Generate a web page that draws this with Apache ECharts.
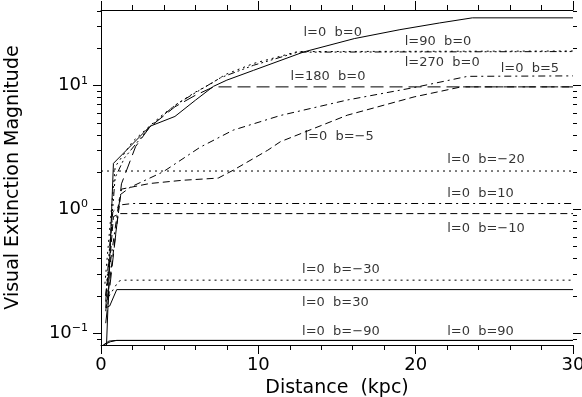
<!DOCTYPE html>
<html>
<head>
<meta charset="utf-8">
<script src="https://cdn.jsdelivr.net/npm/echarts@6/dist/echarts.min.js"></script>
<style>
  html, body { margin: 0; padding: 0; background: #fff; }
  #chart { width: 582px; height: 397px; }
</style>
</head>
<body>
<div id="chart"></div>
<script>
// curves: [distance (kpc), visual extinction (mag)]
const l0b0 = [[0.35, 0.08], [0.79, 2.34], [3.12, 4.67], [4.7, 5.6], [6.0, 7.57], [7.15, 9.8], [8.0, 11.0], [9.7, 13.2], [12.9, 18.6], [16.1, 23.8], [19.0, 28.1], [21.5, 31.8], [23.6, 35.0], [30, 35.0]];
const l90b0 = [[0.25, 0.25], [0.9, 2.2], [2.0, 3.5], [3.1, 4.7], [4.0, 5.9], [5.0, 7.3], [6.0, 8.8], [7.0, 10.3], [7.9, 12.2], [9.7, 15.0], [12.5, 18.7], [30, 18.9]];
const l270b0 = [[0.3, 0.2], [0.9, 1.8], [1.5, 2.6], [3.1, 4.6], [4.7, 6.9], [6.0, 8.7], [7.6, 11.5], [9.7, 14.5], [12.5, 18.5], [30, 18.7]];
const l180b0 = [[0.3, 0.12], [1.3, 1.6], [2.2, 3.2], [3.1, 4.6], [4.7, 6.7], [6.0, 8.3], [7.15, 9.7], [30, 9.7]];
const l0b5 = [[0.3, 0.2], [1.2, 1.3], [1.85, 1.5], [3.95, 2.0], [6.3, 3.16], [8.4, 4.34], [11.4, 5.7], [15.65, 7.6], [19.9, 9.58], [23.3, 11.8], [30, 11.9]];
const l0bm5 = [[0.3, 0.15], [1.3, 1.45], [3.1, 1.61], [5.2, 1.71], [7.45, 1.78], [8.4, 2.06], [10.6, 2.99], [11.4, 3.5], [15.65, 5.73], [19.9, 8.05], [22.9, 9.7], [30, 9.7]];
const l0bm20 = [[0, 2.03], [30, 2.03]];
const l0b10 = [[0.3, 0.18], [0.75, 0.95], [1.2, 1.08], [2.0, 1.11], [30, 1.11]];
const l0bm10 = [[0.3, 0.16], [0.57, 0.39], [0.79, 0.87], [1.2, 0.92], [30, 0.92]];
const l0bm30 = [[0.3, 0.18], [1.1, 0.26], [1.3, 0.267], [30, 0.267]];
const l0b30 = [[0.3, 0.16], [0.55, 0.165], [1.0, 0.224], [30, 0.224]];
const l0bm90 = [[0.15, 0.08], [0.5, 0.086], [0.9, 0.087], [30, 0.087]];
const l0b90 = [[0.15, 0.08], [0.6, 0.085], [1.0, 0.0872], [30, 0.0872]];

// curve annotations: [distance, extinction, text]
const curveLabels = [
  [12.87, 26.8, 'l=0  b=0'],
  [19.3, 22.4, 'l=90  b=0'],
  [19.3, 15.2, 'l=270  b=0'],
  [12.04, 11.7, 'l=180  b=0'],
  [25.4, 13.6, 'l=0  b=5'],
  [12.93, 3.88, 'l=0  b=\u22125'],
  [22.0, 2.53, 'l=0  b=\u221220'],
  [22.0, 1.339, 'l=0  b=10'],
  [22.0, 0.69, 'l=0  b=\u221210'],
  [12.78, 0.3265, 'l=0  b=\u221230'],
  [12.78, 0.1755, 'l=0  b=30'],
  [12.78, 0.1024, 'l=0  b=\u221290'],
  [22.0, 0.1024, 'l=0  b=90']
];

// y axis ticks (log axis)
const yMajorTicks = [0.1, 1, 10];
const yMinorTicks = [0.09, 0.2, 0.3, 0.4, 0.5, 0.6, 0.7, 0.8, 0.9, 2, 3, 4, 5, 6, 7, 8, 9, 20, 30, 40];

const dotted = [2, 4];
const dashed = [7, 4];
const longDash = [13, 6];
const dashDot = [7, 4, 2, 4];
const dashDot3 = [7, 3, 2, 3, 2, 3, 2, 3];

function curve(data, type) {
  return {
    type: 'line',
    data: data,
    symbol: 'none',
    silent: true,
    lineStyle: { color: '#000', width: 1, type: type, cap: 'butt' }
  };
}

function logLabel(v) {
  const lg = Math.log10(v);
  const e = Math.round(lg);
  if (Math.abs(lg - e) > 1e-6) return '';
  return '{b|10}{s|' + (e < 0 ? '\u2212' + (-e) : e) + '}';
}

var myChart = echarts.init(document.getElementById('chart'));

const font = 'DejaVu Sans';
const tickData = yMajorTicks.map(v => [0, v, 1]).concat(yMinorTicks.map(v => [0, v, 0]));

var option = {
  animation: false,
  grid: { left: 101, right: 9, top: 10, bottom: 52, outerBoundsMode: 'none', containLabel: false },
  xAxis: [
    {
      type: 'value', min: 0, max: 30, interval: 10, position: 'bottom',
      name: 'Distance  (kpc)', nameLocation: 'middle', nameGap: 30,
      nameTextStyle: { fontFamily: font, fontSize: 19, color: '#000' },
      axisLine: { show: true, lineStyle: { color: '#000', width: 1 } },
      axisTick: { show: true, length: 9, lineStyle: { color: '#000' } },
      minorTick: { show: true, splitNumber: 5, length: 5, lineStyle: { color: '#000' } },
      axisLabel: { fontFamily: font, fontSize: 18, color: '#000', margin: 11 },
      splitLine: { show: false }
    },
    {
      type: 'value', min: 0, max: 30, interval: 10, position: 'top',
      axisLine: { show: true, lineStyle: { color: '#000', width: 1 } },
      axisTick: { show: true, length: 9, lineStyle: { color: '#000' } },
      minorTick: { show: true, splitNumber: 5, length: 5, lineStyle: { color: '#000' } },
      axisLabel: { show: false },
      splitLine: { show: false }
    }
  ],
  yAxis: [
    {
      type: 'log', logBase: 10, min: 0.08, max: 40.5, position: 'left',
      name: 'Visual Extinction Magnitude', nameLocation: 'middle', nameGap: 78,
      nameTextStyle: { fontFamily: font, fontSize: 19, color: '#000' },
      axisLine: { show: true, lineStyle: { color: '#000', width: 1 } },
      axisTick: { show: false },
      axisLabel: {
        margin: 13, color: '#000', formatter: logLabel,
        showMinLabel: false, showMaxLabel: false,
        rich: {
          b: { fontFamily: font, fontSize: 18, color: '#000', lineHeight: 20 },
          s: { fontFamily: font, fontSize: 11, color: '#000', verticalAlign: 'top', lineHeight: 11 }
        }
      },
      splitLine: { show: false }
    },
    {
      type: 'log', logBase: 10, min: 0.08, max: 40.5, position: 'right',
      axisLine: { show: true, lineStyle: { color: '#000', width: 1 } },
      axisTick: { show: false },
      axisLabel: { show: false },
      splitLine: { show: false }
    }
  ],
  series: [
    curve(l0b0, 'solid'),
    curve(l90b0, dotted),
    curve(l270b0, dashDot3),
    curve(l180b0, longDash),
    curve(l0b5, dashDot),
    curve(l0bm5, dashed),
    curve(l0bm20, dotted),
    curve(l0b10, dashDot),
    curve(l0bm10, dashed),
    curve(l0bm30, dotted),
    curve(l0b30, 'solid'),
    curve(l0bm90, 'solid'),
    curve(l0b90, 'solid'),
    {
      type: 'scatter',
      data: curveLabels,
      symbolSize: 0,
      silent: true,
      clip: false,
      label: {
        show: true, position: [0, 0], align: 'left', verticalAlign: 'middle',
        fontFamily: font, fontSize: 13, color: '#000',
        formatter: p => p.data[2]
      }
    },
    {
      type: 'custom',
      data: tickData,
      silent: true,
      clip: false,
      renderItem: function (params, api) {
        const cs = params.coordSys;
        const y = Math.round(api.coord([0, api.value(1)])[1]) + 0.5;
        const len = api.value(2) ? 8 : 4;
        const style = { stroke: '#000', lineWidth: 1 };
        return {
          type: 'group',
          children: [
            { type: 'line', shape: { x1: cs.x - len, y1: y, x2: cs.x, y2: y }, style: style },
            { type: 'line', shape: { x1: cs.x + cs.width, y1: y, x2: cs.x + cs.width + len, y2: y }, style: style }
          ]
        };
      }
    }
  ]
};

myChart.setOption(option);
</script>
</body>
</html>
